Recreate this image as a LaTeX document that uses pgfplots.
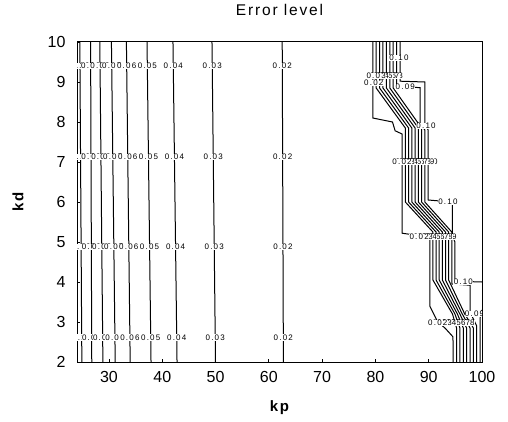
\documentclass[border=0pt]{standalone}
\usepackage{pgfplots}
\pgfplotsset{compat=1.18}
\usepackage{fontspec}
\setmainfont{Liberation Sans}
\newfontfamily\spaced[LetterSpace=12]{Liberation Sans}
\newfontfamily\labspaced[LetterSpace=15]{Liberation Sans}
\begin{document}
\begin{tikzpicture}[
  cl/.style={black, line width=1pt},
  lab/.style={fill=white, inner sep=0.3pt, font=\labspaced\fontsize{8}{8}\selectfont},
]
\begin{axis}[
  scale only axis, width=405pt, height=320pt,
  xmin=24, xmax=100, ymin=2, ymax=10,
  xtick={30,40,50,60,70,80,90,100},
  ytick={2,3,4,5,6,7,8,9,10},
  tick pos=left, tick align=inside, major tick length=3pt,
  axis line style={line width=1pt},
  tick style={line width=0.9pt,black},
  /pgf/number format/assume math mode=true,
  ticklabel style={font=\fontsize{16}{16}\selectfont},
  xticklabel style={yshift=-6pt},
  yticklabel style={xshift=-8pt},
  title={Error level},
  title style={font=\spaced\fontsize{15.5}{15.5}\selectfont, at={(axis description cs:0.5,1.0656)}, anchor=base},
  xlabel={kp},
  xlabel style={font=\spaced\bfseries\fontsize{15}{15}\selectfont, at={(axis description cs:0.5,-0.156)}, anchor=base},
  ylabel={kd},
  ylabel style={font=\spaced\bfseries\fontsize{15}{15}\selectfont, at={(axis description cs:-0.1457,0.5)}, anchor=center},
]
% ---- left group: nearly vertical contour lines (level 0.10 ... 0.02)
\addplot[cl, no markers] coordinates {(24.53,10) (24.91,2)};
\addplot[cl, no markers] coordinates {(26.55,10) (26.77,2)};
\addplot[cl, no markers] coordinates {(28.28,10) (28.86,2)};
\addplot[cl, no markers] coordinates {(30.46,10) (31.17,2)};
\addplot[cl, no markers] coordinates {(33.27,10) (33.98,2)};
\addplot[cl, no markers] coordinates {(37.14,10) (37.89,2)};
\addplot[cl, no markers] coordinates {(42.01,10) (42.77,2)};
\addplot[cl, no markers] coordinates {(49.33,10) (49.99,2)};
\addplot[cl, no markers] coordinates {(62.51,10) (62.73,2)};
% ---- right group: staircase contour lines (level 0.02 ... 0.10)
\addplot[cl, no markers] coordinates {(79.5,10) (79.5,8.1) (83.2,8.0) (83.7,7.78) (85.0,7.7) (85.0,5.22) (90.2,5.12) (90.2,3.4) (91.7,3.0) (93.05,2.85) (94.55,2.63) (94.6,2)};
\addplot[cl, no markers] coordinates {(80.14,10) (80.14,8.85) (85.61,7.85) (85.61,6.0) (90.79,5.25) (90.79,4.05) (94.46,3.2) (95.23,2.85) (95.23,2)};
\addplot[cl, no markers] coordinates {(80.78,10) (80.78,8.85) (86.22,7.85) (86.22,6.0) (91.38,5.25) (91.38,4.05) (94.92,3.2) (95.86,2.85) (95.86,2)};
\addplot[cl, no markers] coordinates {(81.42,10) (81.42,8.85) (86.83,7.85) (86.83,6.0) (91.97,5.25) (91.97,4.05) (95.38,3.2) (96.49,2.85) (96.49,2)};
\addplot[cl, no markers] coordinates {(82.06,10) (82.06,8.85) (87.44,7.85) (87.44,6.0) (92.56,5.25) (92.56,4.05) (95.84,3.2) (97.12,2.85) (97.12,2)};
\addplot[cl, no markers] coordinates {(82.70,10) (82.70,8.85) (88.05,7.85) (88.05,6.0) (93.15,5.25) (93.15,4.05) (96.30,3.2) (97.75,2.85) (97.75,2)};
\addplot[cl, no markers] coordinates {(83.34,10) (83.34,8.85) (88.66,7.85) (88.66,6.0) (93.74,5.25) (93.74,4.05) (96.76,3.2) (98.38,2.85) (98.38,2)};
\addplot[cl, no markers] coordinates {(83.98,10) (83.98,8.88) (88.4,8.86) (88.4,7.95) (89.27,7.8) (89.27,6.0) (94.33,5.25) (94.33,3.95) (97.75,3.92) (97.75,3.25) (99.01,2.9) (99.01,2)};
\addplot[cl, no markers] coordinates {(84.62,10) (84.62,9.02) (89.3,9.0) (89.3,7.95) (89.88,7.8) (89.88,6.05) (94.45,6.0) (94.45,5.15) (94.92,5.0) (94.92,4.02) (100,4.0)};
\addplot[cl, no markers] coordinates {(100,3.3) (99.64,3.1) (99.64,2)};
% ---- left group labels
\node[lab] at (axis cs:24.56,9.4) {0.10};
\node[lab] at (axis cs:26.57,9.4) {0.09};
\node[lab] at (axis cs:28.32,9.4) {0.08};
\node[lab] at (axis cs:30.51,9.4) {0.07};
\node[lab] at (axis cs:33.32,9.4) {0.06};
\node[lab] at (axis cs:37.20,9.4) {0.05};
\node[lab] at (axis cs:42.07,9.4) {0.04};
\node[lab] at (axis cs:49.38,9.4) {0.03};
\node[lab] at (axis cs:62.53,9.4) {0.02};
\node[lab] at (axis cs:24.67,7.12) {0.10};
\node[lab] at (axis cs:26.63,7.12) {0.09};
\node[lab] at (axis cs:28.49,7.12) {0.08};
\node[lab] at (axis cs:30.71,7.12) {0.07};
\node[lab] at (axis cs:33.53,7.12) {0.06};
\node[lab] at (axis cs:37.41,7.12) {0.05};
\node[lab] at (axis cs:42.28,7.12) {0.04};
\node[lab] at (axis cs:49.57,7.12) {0.03};
\node[lab] at (axis cs:62.59,7.12) {0.02};
\node[lab] at (axis cs:24.77,4.88) {0.10};
\node[lab] at (axis cs:26.69,4.88) {0.09};
\node[lab] at (axis cs:28.65,4.88) {0.08};
\node[lab] at (axis cs:30.91,4.88) {0.07};
\node[lab] at (axis cs:33.72,4.88) {0.06};
\node[lab] at (axis cs:37.62,4.88) {0.05};
\node[lab] at (axis cs:42.50,4.88) {0.04};
\node[lab] at (axis cs:49.75,4.88) {0.03};
\node[lab] at (axis cs:62.65,4.88) {0.02};
\node[lab] at (axis cs:24.88,2.61) {0.10};
\node[lab] at (axis cs:26.75,2.61) {0.09};
\node[lab] at (axis cs:28.82,2.61) {0.08};
\node[lab] at (axis cs:31.12,2.61) {0.07};
\node[lab] at (axis cs:33.93,2.61) {0.06};
\node[lab] at (axis cs:37.83,2.61) {0.05};
\node[lab] at (axis cs:42.71,2.61) {0.04};
\node[lab] at (axis cs:49.94,2.61) {0.03};
\node[lab] at (axis cs:62.71,2.61) {0.02};
% ---- right group labels
\node[lab] at (axis cs:84.4,9.6) {0.10};
\node[lab] at (axis cs:83.34,9.15) {0.08};
\node[lab] at (axis cs:82.70,9.15) {0.07};
\node[lab] at (axis cs:82.06,9.15) {0.06};
\node[lab] at (axis cs:81.42,9.15) {0.05};
\node[lab] at (axis cs:80.78,9.15) {0.04};
\node[lab] at (axis cs:80.14,9.15) {0.03};
\node[lab] at (axis cs:79.7,8.98) {0.02};
\node[lab] at (axis cs:85.6,8.87) {0.09};
\node[lab] at (axis cs:89.5,7.9) {0.10};
\node[lab] at (axis cs:89.88,7.0) {0.10};
\node[lab] at (axis cs:89.27,7.0) {0.09};
\node[lab] at (axis cs:88.66,7.0) {0.08};
\node[lab] at (axis cs:88.05,7.0) {0.07};
\node[lab] at (axis cs:87.44,7.0) {0.06};
\node[lab] at (axis cs:86.83,7.0) {0.05};
\node[lab] at (axis cs:86.22,7.0) {0.04};
\node[lab] at (axis cs:85.61,7.0) {0.03};
\node[lab] at (axis cs:85.0,7.0) {0.02};
\node[lab] at (axis cs:93.6,6.0) {0.10};
\node[lab] at (axis cs:93.45,5.12) {0.09};
\node[lab] at (axis cs:92.7,5.12) {0.08};
\node[lab] at (axis cs:91.95,5.12) {0.07};
\node[lab] at (axis cs:91.2,5.12) {0.06};
\node[lab] at (axis cs:90.45,5.12) {0.05};
\node[lab] at (axis cs:89.7,5.12) {0.04};
\node[lab] at (axis cs:88.95,5.12) {0.03};
\node[lab] at (axis cs:88.2,5.12) {0.02};
\node[lab] at (axis cs:96.5,4.0) {0.10};
\node[lab] at (axis cs:98.6,3.2) {0.09};
\node[lab] at (axis cs:96.8,2.97) {0.08};
\node[lab] at (axis cs:95.95,2.97) {0.07};
\node[lab] at (axis cs:95.1,2.97) {0.06};
\node[lab] at (axis cs:94.25,2.97) {0.05};
\node[lab] at (axis cs:93.4,2.97) {0.04};
\node[lab] at (axis cs:92.55,2.97) {0.03};
\node[lab] at (axis cs:91.7,2.97) {0.02};
\end{axis}
\pgfresetboundingbox
\path[use as bounding box] ([xshift=-77pt,yshift=-59pt]current axis.south west) rectangle ([xshift=26pt,yshift=42pt]current axis.north east);
\end{tikzpicture}
\end{document}
